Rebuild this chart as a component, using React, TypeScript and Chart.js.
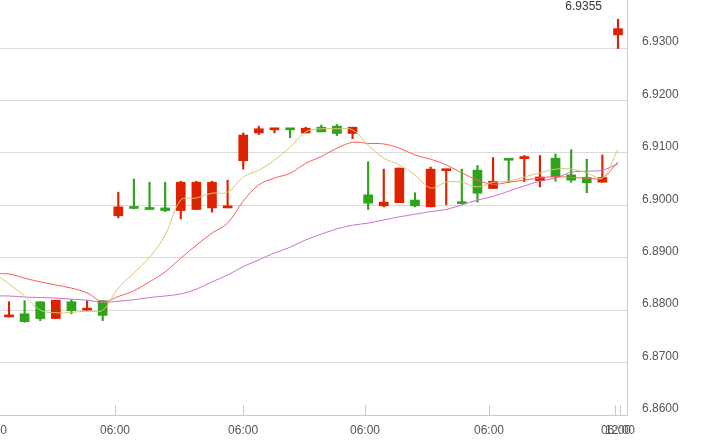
import React, { useEffect, useRef } from 'react';
import { Chart, registerables } from 'chart.js';
Chart.register(...registerables);

// Candles (index 0..39)
const openV = [6.8787, 6.8793, 6.8816, 6.8784, 6.8816, 6.8800, 6.8818, 6.8980, 6.8997, 6.8993, 6.8995, 6.8990, 6.8992, 6.8995, 6.8995, 6.9085, 6.9138, 6.9144, 6.9146, 6.9138, 6.9149, 6.9151, 6.9137, 6.9020, 6.8999, 6.9005, 6.9010, 6.8997, 6.9066, 6.9005, 6.9067, 6.9032, 6.9088, 6.9089, 6.9047, 6.9090, 6.9058, 6.9053, 6.9044, 6.9325];
const closeV = [6.8791, 6.8778, 6.8784, 6.8819, 6.8799, 6.8802, 6.8790, 6.8997, 6.8994, 6.8992, 6.8990, 6.9044, 6.9044, 6.9044, 6.8999, 6.9134, 6.9146, 6.9147, 6.9144, 6.9147, 6.9140, 6.9137, 6.9149, 6.9004, 6.9006, 6.9071, 6.8999, 6.9069, 6.9069, 6.9003, 6.9023, 6.9046, 6.9086, 6.9093, 6.9054, 6.9054, 6.9048, 6.9043, 6.9053, 6.9337];
const highV = [6.8816, 6.8818, 6.8816, 6.8819, 6.8820, 6.8818, 6.8818, 6.9025, 6.9050, 6.9044, 6.9044, 6.9046, 6.9046, 6.9046, 6.9048, 6.9138, 6.9151, 6.9147, 6.9146, 6.9149, 6.9153, 6.9154, 6.9149, 6.9083, 6.9069, 6.9071, 6.9024, 6.9073, 6.9069, 6.9069, 6.9076, 6.9091, 6.9088, 6.9095, 6.9095, 6.9098, 6.9106, 6.9088, 6.9096, 6.9355];
const lowV = [6.8787, 6.8777, 6.8780, 6.8784, 6.8793, 6.8799, 6.8780, 6.8976, 6.8993, 6.8992, 6.8988, 6.8974, 6.8992, 6.8987, 6.8995, 6.9069, 6.9135, 6.9138, 6.9129, 6.9138, 6.9140, 6.9133, 6.9127, 6.8992, 6.8997, 6.9005, 6.8997, 6.8997, 6.9001, 6.9003, 6.9006, 6.9032, 6.9043, 6.9045, 6.9035, 6.9046, 6.9044, 6.9024, 6.9044, 6.9299];

// Moving averages (index -1..39)
const maStart = -1;
const ma5 = [6.8871, 6.8850, 6.8827, 6.8800, 6.8795, 6.8796, 6.8798, 6.8800, 6.8842, 6.8871, 6.8901, 6.8943, 6.9010, 6.9014, 6.9023, 6.9025, 6.9054, 6.9067, 6.9086, 6.9111, 6.9140, 6.9146, 6.9146, 6.9144, 6.9115, 6.9090, 6.9077, 6.9058, 6.9033, 6.9044, 6.9044, 6.9035, 6.9044, 6.9046, 6.9054, 6.9062, 6.9069, 6.9069, 6.9062, 6.9052, 6.9107];
const ma10 = [6.8869, 6.8869, 6.8861, 6.8854, 6.8848, 6.8842, 6.8833, 6.8816, 6.8826, 6.8837, 6.8854, 6.8873, 6.8899, 6.8924, 6.8947, 6.8966, 6.9008, 6.9039, 6.9052, 6.9061, 6.9080, 6.9093, 6.9109, 6.9120, 6.9118, 6.9117, 6.9109, 6.9096, 6.9088, 6.9077, 6.9062, 6.9048, 6.9040, 6.9044, 6.9048, 6.9052, 6.9055, 6.9053, 6.9052, 6.9052, 6.9083];
const ma20 = [6.8827, 6.8827, 6.8825, 6.8824, 6.8823, 6.8821, 6.8819, 6.8815, 6.8817, 6.8820, 6.8824, 6.8827, 6.8831, 6.8840, 6.8854, 6.8867, 6.8883, 6.8896, 6.8909, 6.8920, 6.8934, 6.8945, 6.8955, 6.8962, 6.8966, 6.8972, 6.8978, 6.8983, 6.8988, 6.8992, 6.9001, 6.9010, 6.9017, 6.9027, 6.9037, 6.9046, 6.9052, 6.9063, 6.9065, 6.9067, 6.9079];

// Axes
const xTickPos = [-1.09, 6.79, 14.99, 22.8, 30.74, 38.87, 39.13];
const xTickLabels = ['06:00', '06:00', '06:00', '06:00', '06:00', '06:00', '12:00'];
const yTickValues = [6.86, 6.87, 6.88, 6.89, 6.90, 6.91, 6.92, 6.93];
const yMin = 6.86;
const yMax = 6.93916;
const xMin = -0.576;
const xMax = 39.577;

const UP = '#dd2200';
const DOWN = '#2ea41a';
const AXIS = '#c4ccd8';
const FONT = 'Liberation Sans, Arial, sans-serif';

export default function App() {
  const ref = useRef<HTMLCanvasElement>(null);
  useEffect(() => {
    if (!ref.current) return;
    const colors = openV.map((o, i) => (closeV[i] >= o ? UP : DOWN));
    const maPts = (arr: number[]) => arr.map((v, i) => ({ x: i + maStart, y: v }));
    const highLabel = {
      id: 'highLabel',
      afterDatasetsDraw(chart: any) {
        let idx = 0;
        highV.forEach((h, i) => { if (h > highV[idx]) idx = i; });
        const xs = chart.scales.x;
        const ys = chart.scales.y;
        const ctx = chart.ctx;
        ctx.save();
        ctx.font = '12px ' + FONT;
        ctx.fillStyle = '#333';
        ctx.textAlign = 'right';
        ctx.textBaseline = 'middle';
        ctx.fillText(highV[idx].toFixed(4), xs.getPixelForValue(idx) - 16, ys.getPixelForValue(highV[idx]) - 13);
        ctx.restore();
      },
    };
    const chart = new Chart(ref.current, {
      type: 'line',
      data: {
        datasets: [
          { type: 'line', data: maPts(ma5), borderColor: '#cfcb72', borderWidth: 1, pointRadius: 0, tension: 0.35, order: 0 },
          { type: 'line', data: maPts(ma10), borderColor: '#ff5a5a', borderWidth: 1, pointRadius: 0, tension: 0.35, order: 0 },
          { type: 'line', data: maPts(ma20), borderColor: '#cc70cc', borderWidth: 1, pointRadius: 0, tension: 0.35, order: 0 },
          {
            type: 'bar',
            data: openV.map((o, i) => ({ x: i, y: [Math.min(o, closeV[i]), Math.max(o, closeV[i])] })),
            backgroundColor: colors, borderWidth: 0, barThickness: 9, minBarLength: 2, grouped: false, order: 1,
          },
          {
            type: 'bar',
            data: lowV.map((l, i) => ({ x: i, y: [l, highV[i]] })),
            backgroundColor: colors, borderWidth: 0, barThickness: 1.5, grouped: false, order: 2,
          },
        ] as any,
      },
      options: {
        animation: false,
        responsive: true,
        maintainAspectRatio: false,
        layout: { padding: 0 },
        plugins: { legend: { display: false }, tooltip: { enabled: false } },
        scales: {
          x: {
            type: 'linear',
            min: xMin,
            max: xMax,
            offset: false,
            afterBuildTicks: (s: any) => { s.ticks = xTickPos.map((v) => ({ value: v })); },
            afterFit: (s: any) => { s.height = 27; s.paddingLeft = 0; s.paddingRight = 0; },
            grid: { display: true, drawOnChartArea: false, drawTicks: true, tickLength: -10, color: AXIS, offset: false },
            border: { display: true, color: AXIS },
            ticks: {
              autoSkip: false, maxRotation: 0, minRotation: 0, padding: 18,
              color: '#555', font: { family: FONT, size: 12 },
              callback: (_v: any, i: number) => xTickLabels[i],
            },
          },
          y: {
            type: 'linear',
            position: 'right',
            min: yMin,
            max: yMax,
            beginAtZero: false,
            afterBuildTicks: (s: any) => { s.ticks = yTickValues.map((v) => ({ value: v })); },
            afterFit: (s: any) => { s.width = 95; s.paddingTop = 0; s.paddingBottom = 0; },
            grid: { color: '#dadada', drawTicks: false },
            border: { display: true, color: AXIS },
            ticks: {
              padding: 15, labelOffset: -6,
              color: '#555', font: { family: FONT, size: 12 },
              callback: (v: any) => Number(v).toFixed(4),
            },
          },
        },
      } as any,
      plugins: [highLabel],
    });
    return () => chart.destroy();
  }, []);
  return (
    <div style={{ position: 'fixed', left: 0, top: 0, width: 722, height: 442, background: '#fff' }}>
      <canvas ref={ref} />
    </div>
  );
}
